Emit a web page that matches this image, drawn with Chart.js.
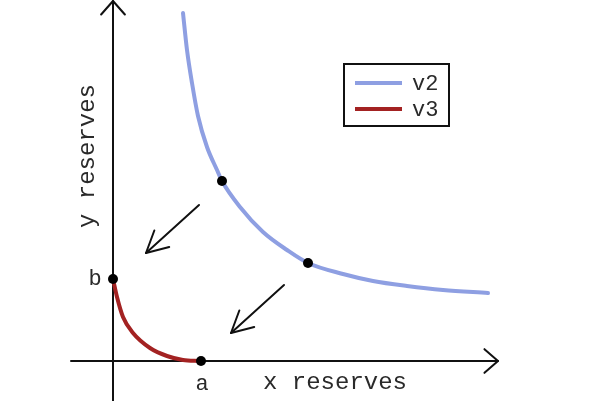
<!DOCTYPE html>
<html>
<head>
<meta charset="utf-8">
<script src="https://cdn.jsdelivr.net/npm/chart.js@4"></script>
<style>
  html, body { margin: 0; padding: 0; background: #ffffff; }
  #wrap { position: relative; width: 600px; height: 401px; }
</style>
</head>
<body>
<div id="wrap"><canvas id="c"></canvas></div>
<script>
// ---- data (units: reserves, origin at the axes crossing) ----
const v2X = [70, 74, 79, 85, 94, 104, 109, 127, 150, 174, 195, 230, 260, 294, 330, 375];
const v2Y = [348, 311, 278, 245, 214, 191, 180, 154, 129, 111, 98, 87, 80, 75, 71, 68];
const v3X = [0, 4, 10, 20, 37, 54, 70, 87];
const v3Y = [82, 64, 44, 28, 13, 5, 1, 0];
const markerX = [109, 195, 0, 88];
const markerY = [180, 98, 82, 0];
const pointLabels = ["", "", "b", "a"];
const arrowFromX = [86, 171];
const arrowFromY = [156, 76];
const arrowToX = [33, 118];
const arrowToY = [108, 28];
const seriesNames = ["v2", "v3"];
const axisTitles = ["x reserves", "y reserves"];

const BLUE = "#8e9fe2";
const RED = "#a32222";
const FONT = "'Liberation Mono', 'Courier New', monospace";

const toPts = (xs, ys) => xs.map((x, i) => ({ x: x, y: ys[i] }));

function head(ctx, tx, ty, fx, fy, len, ang) {
  const a = Math.atan2(ty - fy, tx - fx);
  ctx.beginPath();
  ctx.moveTo(tx - len * Math.cos(a - ang), ty - len * Math.sin(a - ang));
  ctx.lineTo(tx, ty);
  ctx.lineTo(tx - len * Math.cos(a + ang), ty - len * Math.sin(a + ang));
  ctx.stroke();
}

const decor = {
  id: "decor",
  beforeDatasetsDraw(chart) {
    const { ctx, scales: { x, y } } = chart;
    ctx.save();
    ctx.strokeStyle = "#111";
    ctx.lineWidth = 2;
    ctx.lineCap = "round";
    ctx.lineJoin = "round";
    // axes
    const x0 = x.getPixelForValue(0), y0 = y.getPixelForValue(0);
    ctx.beginPath();
    ctx.moveTo(x0, y.getPixelForValue(y.min));
    ctx.lineTo(x0, y.getPixelForValue(360));
    ctx.stroke();
    head(ctx, x0, y.getPixelForValue(360), x0, y0, 18, 0.72);
    ctx.beginPath();
    ctx.moveTo(x.getPixelForValue(-42), y0);
    ctx.lineTo(x.getPixelForValue(385), y0);
    ctx.stroke();
    head(ctx, x.getPixelForValue(385), y0, x0, y0, 18, 0.72);
    // arrows
    for (let i = 0; i < arrowFromX.length; i++) {
      const fx = x.getPixelForValue(arrowFromX[i]), fy = y.getPixelForValue(arrowFromY[i]);
      const tx = x.getPixelForValue(arrowToX[i]), ty = y.getPixelForValue(arrowToY[i]);
      ctx.beginPath();
      ctx.moveTo(fx, fy);
      ctx.lineTo(tx, ty);
      ctx.stroke();
      head(ctx, tx, ty, fx, fy, 24, 0.48);
    }
    ctx.restore();
  },
  afterDraw(chart) {
    const { ctx, scales: { x, y } } = chart;
    ctx.save();
    ctx.fillStyle = "#2a2a2a";
    ctx.font = "24px " + FONT;
    ctx.textAlign = "center";
    ctx.textBaseline = "middle";
    // axis titles
    ctx.fillText(axisTitles[0], x.getPixelForValue(222), y.getPixelForValue(-22));
    ctx.save();
    ctx.translate(x.getPixelForValue(-25), y.getPixelForValue(205));
    ctx.rotate(-Math.PI / 2);
    ctx.fillText(axisTitles[1], 0, 0);
    ctx.restore();
    // point labels
    ctx.font = "22px " + FONT;
    const offs = { a: [1, -23], b: [-18, 0] };
    pointLabels.forEach((t, i) => {
      if (!t) return;
      const o = offs[t];
      ctx.fillText(t, x.getPixelForValue(markerX[i]) + o[0], y.getPixelForValue(markerY[i]) - o[1]);
    });
    // legend
    ctx.strokeStyle = "#111";
    ctx.lineWidth = 2;
    ctx.strokeRect(344, 64, 105, 62);
    ctx.font = "22px " + FONT;
    ctx.textAlign = "left";
    const ds = chart.data.datasets.filter(d => seriesNames.includes(d.label));
    ds.forEach((d, i) => {
      const ly = 83 + i * 26;
      ctx.strokeStyle = d.borderColor;
      ctx.lineWidth = 4;
      ctx.beginPath();
      ctx.moveTo(355, ly);
      ctx.lineTo(402, ly);
      ctx.stroke();
      ctx.fillStyle = "#2a2a2a";
      ctx.fillText(d.label, 412, ly + 1);
    });
    ctx.restore();
  }
};

new Chart(document.getElementById("c"), {
  type: "scatter",
  data: {
    datasets: [
      { label: seriesNames[0], data: toPts(v2X, v2Y), showLine: true, borderColor: BLUE, borderWidth: 4,
        pointRadius: 0, cubicInterpolationMode: "monotone", borderCapStyle: "round", order: 3 },
      { label: seriesNames[1], data: toPts(v3X, v3Y), showLine: true, borderColor: RED, borderWidth: 4,
        pointRadius: 0, cubicInterpolationMode: "monotone", borderCapStyle: "round", order: 2 },
      { label: "points", data: toPts(markerX, markerY), showLine: false, pointRadius: 5,
        pointBackgroundColor: "#000", pointBorderColor: "#000", borderWidth: 0, order: 1 }
    ]
  },
  options: {
    responsive: true,
    maintainAspectRatio: false,
    animation: false,
    devicePixelRatio: 1,
    layout: { padding: 0, autoPadding: false },
    plugins: { legend: { display: false }, tooltip: { enabled: false } },
    scales: {
      x: { type: "linear", min: -113, max: 487, display: false },
      y: { type: "linear", min: -40, max: 361, display: false }
    }
  },
  plugins: [decor]
});
</script>
</body>
</html>
